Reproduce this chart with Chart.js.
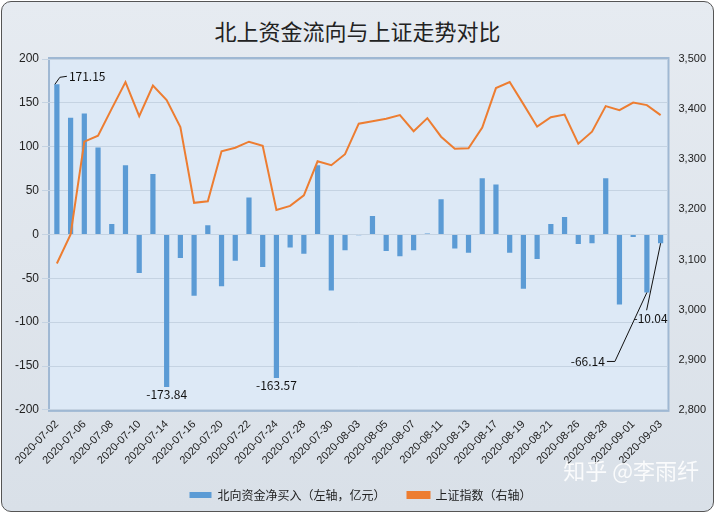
<!DOCTYPE html>
<html><head><meta charset="utf-8">
<script src="https://cdn.jsdelivr.net/npm/chart.js@4"></script>
<style>
html,body{margin:0;padding:0;background:#fff;}
#wrap{position:absolute;left:1px;top:1px;width:711px;height:509px;border:1px solid #555;border-radius:10px;background:linear-gradient(#e6ebf1,#d9e0e8);overflow:hidden;}
#t{position:absolute;top:12px;width:100%;text-align:center;font:22px "Noto Sans CJK SC";color:#222;}
#wm{position:absolute;right:14px;bottom:26px;font:22px "Noto Sans CJK SC";color:rgba(255,255,255,0.85);}
canvas{position:absolute;left:0;top:0;}
</style></head><body>
<div id="wrap"><div id="t">北上资金流向与上证走势对比</div>
<canvas id="c" width="711" height="509"></canvas>
<div id="wm">知乎 @李雨纤</div></div>
<script>
const dates=["2020-07-02","2020-07-03","2020-07-06","2020-07-07","2020-07-08","2020-07-09","2020-07-10","2020-07-13","2020-07-14","2020-07-15","2020-07-16","2020-07-17","2020-07-20","2020-07-21","2020-07-22","2020-07-23","2020-07-24","2020-07-27","2020-07-28","2020-07-29","2020-07-30","2020-07-31","2020-08-03","2020-08-04","2020-08-05","2020-08-06","2020-08-07","2020-08-10","2020-08-11","2020-08-12","2020-08-13","2020-08-14","2020-08-17","2020-08-18","2020-08-19","2020-08-20","2020-08-21","2020-08-24","2020-08-26","2020-08-27","2020-08-28","2020-08-31","2020-09-01","2020-09-02","2020-09-03"];
const northFlow=[171.15,133,138,99,12,79,-44,69,-173.84,-27,-70,10.5,-59,-30,42,-37,-163.57,-15,-22,79,-64,-18,-1,21,-19,-25,-18,1,40,-16,-21,64,57,-21,-62,-28,12,20,-11,-10,64,-80,-3,-66.14,-10.04];
const shIndex=[3092,3150,3335,3347,3401,3454,3386,3447,3418,3364,3213,3216,3316,3323,3335,3327,3199,3207,3228,3296,3288,3310,3371,3376,3381,3388,3356,3382,3345,3321,3322,3363,3442,3454,3410,3365,3384,3389,3331,3355,3406,3398,3413,3408,3388];
const labelled={0:'171.15',8:'-173.84',16:'-163.57',43:'-66.14',44:'-10.04'};
const F='"Noto Sans CJK SC","Liberation Sans",sans-serif';
const bgPlug={id:'bg',beforeDraw(c){const a=c.chartArea,x=c.ctx;x.save();x.fillStyle='#dde9f6';x.fillRect(a.left,a.top,a.width,a.height);x.strokeStyle='#9fb8d3';x.lineWidth=2;x.strokeRect(a.left-1,a.top-1,a.width+2,a.height+2);x.restore();},
afterDatasetsDraw(c){const x=c.ctx,m=c.getDatasetMeta(0),y=c.scales.y;x.save();x.font='12px '+F;x.fillStyle='#111';x.strokeStyle='#111';x.lineWidth=1;
for(const k in labelled){const t=labelled[k];const el=m.data[k];const bx=el.x,by=y.getPixelForValue(northFlow[k]);
if(k==0){x.beginPath();x.moveTo(bx-2,by);x.lineTo(bx+3,by-7);x.lineTo(bx+10,by-8);x.stroke();x.textAlign='left';x.textBaseline='middle';x.fillText(t,bx+12,by-8);}
else if(k==8||k==16){x.textAlign='center';x.textBaseline='top';x.fillText(t,bx,by+2);}
else if(k==43){x.beginPath();x.moveTo(bx,by);x.lineTo(bx-32,by+69);x.lineTo(bx-40,by+69);x.stroke();x.textAlign='right';x.textBaseline='middle';x.fillText(t,bx-42,by+69);}
else {x.beginPath();x.moveTo(bx,by);x.lineTo(bx-14,by+67);x.stroke();x.textAlign='center';x.textBaseline='top';x.fillText(t,bx-10,by+69);}}
x.restore();}};
new Chart(document.getElementById('c'),{data:{labels:dates,datasets:[
{type:'bar',label:'北向资金净买入（左轴，亿元）',data:northFlow,backgroundColor:'#5b9bd5',yAxisID:'y',barPercentage:0.38,categoryPercentage:1,order:2},
{type:'line',label:'上证指数（右轴）',data:shIndex,borderColor:'#ed7d31',backgroundColor:'#ed7d31',borderWidth:2,pointRadius:0,tension:0,yAxisID:'y1',order:1}]},
options:{responsive:false,animation:false,layout:{padding:{top:57,left:10,right:4,bottom:0}},
plugins:{legend:{position:'bottom',labels:{sort:(a,b)=>a.datasetIndex-b.datasetIndex,font:{family:F,size:12},color:'#222',boxWidth:22,boxHeight:6,padding:22}},tooltip:{enabled:false}},
scales:{x:{offset:true,grid:{display:false},border:{display:false},ticks:{padding:0,autoSkip:false,minRotation:45,maxRotation:45,color:'#222',font:{family:'"Liberation Sans"',size:11},callback:(v,i)=>i%2==0?dates[i]:''}},
y:{position:'left',min:-200,max:200,ticks:{stepSize:50,color:'#222',font:{family:'"Liberation Sans"',size:12}},grid:{color:'#c5d3e2'},border:{display:false}},
y1:{position:'right',min:2800,max:3500,ticks:{stepSize:100,color:'#222',font:{family:'"Liberation Sans"',size:11},callback:v=>v.toLocaleString('en-US')},grid:{display:false},border:{display:false}}}},
plugins:[bgPlug]});
</script></body></html>
